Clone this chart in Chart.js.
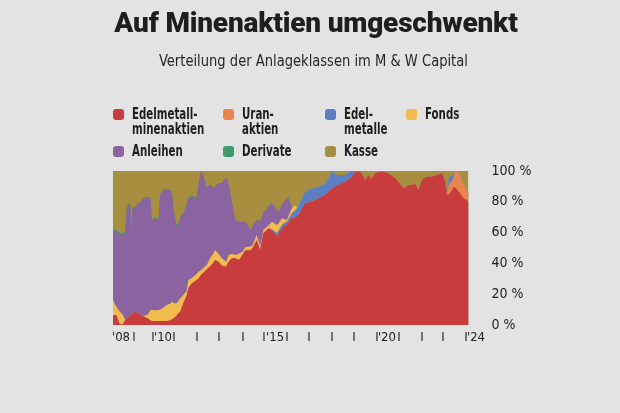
<!DOCTYPE html>
<html lang="de">
<head>
<meta charset="utf-8">
<title>Auf Minenaktien umgeschwenkt</title>
<script src="https://cdn.jsdelivr.net/npm/chart.js@4/dist/chart.umd.min.js"></script>
<style>
html,body{margin:0;padding:0;}
body{width:620px;height:413px;background:#e3e3e3;position:relative;overflow:hidden;
  font-family:"DejaVu Sans Condensed",sans-serif;color:#1e1e1e;}
#chart{position:absolute;left:0;top:0;}
#title{position:absolute;left:0;top:6px;width:632px;text-align:center;
  font-family:Roboto,"Open Sans",sans-serif;font-weight:900;font-size:28px;letter-spacing:-0.2px;}
#subtitle{position:absolute;left:0;top:51px;width:627px;text-align:center;font-size:16px;color:#262626;
  transform:scaleX(0.91);transform-origin:313px 0;}
#legend{position:absolute;left:113px;top:107px;display:grid;
  grid-template-columns:110px 102px 81px 90px;row-gap:7px;}
.item{display:flex;align-items:flex-start;font-weight:bold;font-size:15px;line-height:15px;white-space:pre-line;}
.item span.txt{display:inline-block;transform:scaleX(0.76);transform-origin:0 0;}
.box{width:11px;height:11px;border-radius:3px;margin:2px 8px 0 0;flex:none;}
</style>
</head>
<body>
<canvas id="chart" width="620" height="413"></canvas>
<div id="title">Auf Minenaktien umgeschwenkt</div>
<div id="subtitle">Verteilung der Anlageklassen im M &amp; W Capital</div>
<div id="legend"></div>
<script>

const YEARS = [2008.00,2008.15,2008.30,2008.45,2008.55,2008.63,2008.72,2008.79,2008.82,2008.86,
    2008.97,2009.12,2009.27,2009.40,2009.58,2009.70,2009.75,2009.95,2010.06,2010.13,
    2010.30,2010.43,2010.60,2010.66,2010.73,2010.85,2010.92,2011.05,2011.18,2011.33,
    2011.41,2011.56,2011.78,2011.86,2011.98,2012.09,2012.24,2012.39,2012.54,2012.62,
    2012.77,2012.92,2013.12,2013.23,2013.38,2013.53,2013.70,2013.85,2013.99,2014.21,
    2014.30,2014.50,2014.66,2014.80,2015.04,2015.19,2015.42,2015.49,2015.64,2015.72,
    2015.87,2015.94,2016.09,2016.24,2016.32,2016.47,2016.69,2016.99,2017.29,2017.60,
    2017.90,2018.12,2018.35,2018.51,2018.73,2018.96,2019.18,2019.33,2019.41,2019.56,
    2019.70,2019.86,2020.16,2020.46,2020.77,2020.91,2021.14,2021.37,2021.52,2021.67,
    2021.82,2021.97,2022.20,2022.42,2022.65,2022.88,2023.03,2023.10,2023.20,2023.32,
    2023.40,2023.50,2023.62,2023.70,2023.85,2024.00,2024.08];

const MINENAKTIEN = [6.5,6.5,0.5,0.5,3.3,4.5,5.4,6,6.5,7.5,
    8.7,7.5,6.5,5.4,4.3,3,2.6,2.6,2.6,2.6,
    2.6,2.6,3,3.5,4.3,5.5,7,9,14.1,19,
    23.8,27,29.2,30,32.5,34,36,38,40.5,42.2,
    41,38.5,38,41,43.3,43.3,42.2,45.5,48.5,48.5,
    49.6,55,48.5,59.5,62.8,61.5,57.4,59,62.8,64,
    65,66.5,69.3,70,70.3,73.6,79,80,82.3,84.4,
    88.7,90.5,92,93,95,99.6,99.6,96.3,94.2,97.4,
    95,98.5,99.6,98.5,95.2,93,88.7,90.9,90.9,91.9,
    87.7,94.2,96.3,96.3,97.4,98.5,93,84.4,85,87,
    89.8,89,87,85.5,82.3,81.2,80];

const URANAKTIEN = [0,0,0,0,0,0,0,0,0,0,
    0,0,0,0,0,0,0,0,0,0,
    0,0,0,0,0,0,0,0,0,0,
    0,0,0,0,0,0,0,0,0,0,
    0,0,0,0,0,0,0,0,0,0,
    0,0,0,0,0,0,0,0,0,0,
    0,0,0,0,0,0,0,0,0,0,
    0,0,0,0,0,0,0,0,0,0,
    0,0,0,0,0,0,0,0,0,0,
    0,0,0,0,0,0,0,1.5,7,6,
    6.2,10.6,12.6,11.5,9.7,6.8,6];

const EDELMETALLE = [0,0,0,0,0,0,0,0,0,0,
    0,0,0,0,0,0,0,0,0,0,
    0,0,0,0,0,0,0,0,0,0,
    0,0,0,0,0,0,0,0,0,0,
    0,0,0,0,0,0,0,0,0,0,
    0,0,0,0,0,0.5,2.3,2.3,2.2,2,
    2,2.5,3.2,4.5,5.5,6.4,7.6,8.7,7.5,7.5,
    10.9,6.9,5.4,4.4,5,0.4,0,0,0,0,
    0,0,0,0,0,0,0,0,0,0,
    0,0,0,0,0,0,0,2,4,4,
    1.5,0,0,0,0,0,0];

const FONDS = [9.7,5.5,8.2,6,0,0,0,0,0,0,
    0,0,0,0.5,2.7,6.7,7.1,6.9,7.1,7.4,
    8.9,10.4,11,11.7,10.2,8.5,8,8.5,5.4,3,
    5.4,3.5,3.8,4.6,3,3,3,5.3,6,6.3,
    5.3,5,3,4.5,3,2.2,4,2,2.1,2.5,
    2.1,3.4,2.5,2.2,2,5.1,5.3,4.7,4.3,3,
    1.2,2,3.3,3.5,0.5,0,0,0,0,0,
    0,0,0,0,0,0,0,0,0,0,
    0,0,0,0,0,0,0,0,0,0,
    0,0,0,0,0,0,0,0,0,0,
    0,0,0,0,0,0,0];

const ANLEIHEN = [45.5,49,50.3,51.9,56.7,71.5,73.1,71,44,67.5,
    67.3,70.5,73.5,76.4,76,72.3,58.5,59.8,58.5,74.4,
    76.2,75,73,70.8,61.5,51.5,49,52.5,52.5,56,
    53.1,53,49.3,56.3,64.1,60.5,50,47.7,42.5,41.5,
    45.7,48.5,55,45.4,33.7,22.7,20.8,19.5,16.4,10.7,
    12.3,9.8,16,11.3,12.2,11.9,10,7.6,8.7,11,
    13.8,11.3,0.2,0,0,0,0,0,0,0,
    0,0,0,0,0,0,0,0,0,0,
    0,0,0,0,0,0,0,0,0,0,
    0,0,0,0,0,0,0,0,0,0,
    0,0,0,0,0,0,0];

const DERIVATE = [0.5,0.5,1,1,1,0.5,0.5,0.5,0.5,0.5,
    0.5,0.5,0.5,0.5,0.5,0.5,0.5,0.5,0.5,0.5,
    0.5,0.5,0.5,0.5,0.5,1,1,0.5,0.5,0.5,
    0.5,0.5,0.5,0.3,0,0,0,0,0,0,
    0,0,0,0,0,0,0,0,0,0,
    0,0,0,0,0,0,0,0,0,0,
    0,0,0,0,0,0,0,0,0,0,
    0,0,0,0,0,0,0,0,0,0,
    0,0,0,0,0,0,0,0,0,0,
    0,0,0,0,0,0,0,0,0,0,
    0,0,0,0,0,0,0];

const KASSE = [37.8,38.5,40,40.6,39,23.5,21,22.5,49,24.5,
    23.5,21.5,19.5,17.2,16.5,17.5,31.3,30.2,31.3,15.1,
    11.8,11.5,12.5,13.5,23.5,33.5,35,29.5,27.5,21.5,
    17.2,16,17.2,8.8,0.4,2.5,11,9,11,10,
    8,8,4,9.1,20,31.8,33,33,33,38.3,
    36,31.8,33,27,23,21,25,26.4,22,20,
    18,17.7,24,22,23.7,20,13.4,11.3,10.2,8.1,
    0.4,2.6,2.6,2.6,0,0,0.4,3.7,5.8,2.6,
    5,1.5,0.4,1.5,4.8,7,11.3,9.1,9.1,8.1,
    12.3,5.8,3.7,3.7,2.6,1.5,7,12.1,4,3,
    2.5,0.4,0.4,3,8,12,14];

const SERIES_NAMES = ["Edelmetall-\nminenaktien","Uran-\naktien","Edel-\nmetalle","Fonds","Anleihen","Derivate","Kasse"];

const SERIES_COLORS = ["#c93c3e","#e8854c","#5b7fc0","#f1bb4e","#8a63a0","#3c9a6b","#a88f40"];

const XTICK_VALUES = [2008.36,2008.95,2009.81,2010.26,2010.76,2011.80,2012.79,2013.88,2014.83,2015.33,
    2015.87,2016.86,2017.90,2018.90,2019.94,2020.39,2020.94,2021.98,2022.93,2023.97,2024.42];

const XTICK_LABELS = ["'08","I","I","'10","I","I","I","I","I","'15",
    "I","I","I","I","I","'20","I","I","I","I","'24"];

const YTICK_VALUES = [0,20,40,60,80,100];

const YTICK_LABELS = ["0 %","20 %","40 %","60 %","80 %","100 %"];

const AXIS_FONT = "'DejaVu Sans Condensed',sans-serif";

const SERIES = [MINENAKTIEN,URANAKTIEN,EDELMETALLE,FONDS,ANLEIHEN,DERIVATE,KASSE];

// legend in the same order as the stack, four columns
const legend = document.getElementById("legend");
SERIES_NAMES.forEach((name,i)=>{
    const item = document.createElement("div");
    item.className = "item";
    const box = document.createElement("span");
    box.className = "box";
    box.style.background = SERIES_COLORS[i];
    const text = document.createElement("span");
    text.className = "txt";
    text.textContent = name;
    item.appendChild(box);
    item.appendChild(text);
    legend.appendChild(item);
});

// every layer fills down to zero; lower layers are drawn over the upper ones, so no seams
const datasets = SERIES.map((values,i)=>({
    label: SERIES_NAMES[i].replace("-\n",""),
    data: values.map((v,j)=>({x:YEARS[j], y:v})),
    backgroundColor: SERIES_COLORS[i],
    borderWidth: 0,
    pointRadius: 0,
    tension: 0,
    fill: "origin"
}));

new Chart(document.getElementById("chart"),{
    type: "line",
    data: {datasets},
    options: {
        responsive: false,
        animation: false,
        layout: {padding: {left:113, top:171, right:71.5, bottom:58}},
        plugins: {legend: {display:false}, tooltip: {enabled:false}},
        scales: {
            x: {
                type: "linear",
                min: 2008,
                max: 2024.08,
                grid: {display:false, drawTicks:false},
                border: {display:false},
                afterBuildTicks: scale=>{ scale.ticks = XTICK_VALUES.map(v=>({value:v})); },
                afterFit: scale=>{ scale.height = 30; },
                ticks: {
                    autoSkip: false,
                    maxRotation: 0,
                    minRotation: 0,
                    padding: 5,
                    color: "#222",
                    font: {family: AXIS_FONT, size: 13},
                    callback: (value,index)=>XTICK_LABELS[index]
                }
            },
            y: {
                position: "right",
                stacked: true,
                min: 0,
                max: 100,
                grid: {display:false, drawTicks:false},
                border: {display:false},
                afterBuildTicks: scale=>{ scale.ticks = YTICK_VALUES.map(v=>({value:v})); },
                afterFit: scale=>{ scale.width = 80; },
                ticks: {
                    padding: 23,
                    color: "#222",
                    font: {family: AXIS_FONT, size: 14},
                    callback: (value,index)=>YTICK_LABELS[index]
                }
            }
        }
    }
});
</script>
</body>
</html>
